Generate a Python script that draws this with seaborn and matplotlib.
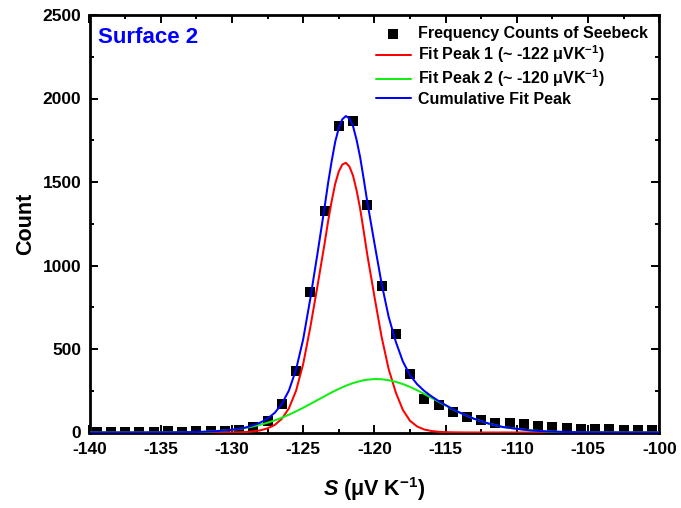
import matplotlib
matplotlib.use("Agg")
import matplotlib.pyplot as plt
from matplotlib.ticker import MultipleLocator
import pandas as pd
import seaborn as sns

# ---- data ----
seebeck_x = [-139.5, -138.5, -137.5, -136.5, -135.5, -134.5, -133.5, -132.5, -131.5, -130.5,
             -129.5, -128.5, -127.5, -126.5, -125.5, -124.5, -123.5, -122.5, -121.5, -120.5,
             -119.5, -118.5, -117.5, -116.5, -115.5, -114.5, -113.5, -112.5, -111.5, -110.5,
             -109.5, -108.5, -107.5, -106.5, -105.5, -104.5, -103.5, -102.5, -101.5, -100.5]
seebeck_count = [5, 5, 5, 5, 5, 6, 5, 7, 8, 10,
                 15, 33, 70, 172, 366, 842, 1328, 1834, 1866, 1361,
                 876, 589, 350, 198, 163, 120, 92, 74, 58, 58,
                 48, 38, 30, 26, 20, 20, 19, 14, 13, 12]

fit_x = [-140, -138, -136, -134, -133, -132, -131,
         -130, -129.5, -129, -128.5, -128, -127.5, -127, -126.5, -126, -125.5, -125, -124.5, -124, -123.5,
         -123.25, -123, -122.75, -122.5, -122.25, -122, -121.75, -121.5, -121.25, -121, -120.75, -120.5,
         -120, -119.5, -119, -118.5, -118, -117.5, -117, -116.5, -116, -115.5, -115, -114.5, -114,
         -113, -112, -111, -110, -109, -108, -107, -106, -105, -104, -102, -100]
fit_peak1 = [0, 0, 0, 0, 0, 0, 0.1,
             0.5, 1.5, 3, 7, 13, 25, 45, 82, 145, 250, 410, 630, 875, 1130,
             1265, 1385, 1490, 1563, 1605, 1615, 1592, 1538, 1450, 1340, 1205, 1065,
             815, 575, 380, 240, 135, 70, 36, 18, 9, 4, 2, 1, 0.5,
             0, 0, 0, 0, 0, 0, 0, 0, 0, 0, 0, 0]
fit_peak2 = [0, 0, 0.2, 1, 2, 4.4, 8.7,
             16, 21, 28, 36.5, 46.5, 58.5, 72.5, 88.6, 106.7, 126.7, 148, 171, 194, 217,
             229, 240, 251, 261, 271, 280, 288, 296, 302, 308, 313, 316,
             320, 319, 313, 303.5, 290, 273, 253, 231, 208, 185, 162, 139, 118.5,
             82, 54, 33, 22, 12, 7, 4, 2, 1, 0.5, 0, 0]
fit_cumulative = [0, 0, 0.2, 1, 2, 4.4, 8.8,
                  16.5, 22.5, 31, 43.5, 59.5, 83.5, 117.5, 170.6, 251.7, 376.7, 558, 801, 1069, 1347,
                  1494, 1625, 1741, 1824, 1876, 1895, 1880, 1834, 1752, 1648, 1518, 1381,
                  1135, 894, 693, 543.5, 425, 343, 289, 249, 217, 189, 164, 140, 119,
                  82, 54, 33, 22, 12, 7, 4, 2, 1, 0.5, 0, 0]

legend_labels = ["Frequency Counts of Seebeck",
                 r"Fit Peak 1 (~ -122 μVK$^{-1}$)",
                 r"Fit Peak 2 (~ -120 μVK$^{-1}$)",
                 "Cumulative Fit Peak"]
panel_label = "Surface 2"
x_ticks = [-140, -135, -130, -125, -120, -115, -110, -105, -100]
y_ticks = [0, 500, 1000, 1500, 2000, 2500]

# ---- style ----
sns.set_style("ticks")
plt.rcParams["font.family"] = ["Liberation Sans", "DejaVu Sans"]
plt.rcParams["font.weight"] = "bold"
plt.rcParams["text.color"] = "black"
plt.rcParams["axes.labelcolor"] = "black"
plt.rcParams["xtick.color"] = "black"
plt.rcParams["ytick.color"] = "black"
plt.rcParams["axes.unicode_minus"] = False
plt.rcParams["mathtext.fontset"] = "custom"
plt.rcParams["mathtext.rm"] = "Liberation Sans:bold"
plt.rcParams["mathtext.bf"] = "Liberation Sans:bold"
plt.rcParams["mathtext.it"] = "Liberation Sans:italic:bold"
plt.rcParams["mathtext.default"] = "rm"

pts = pd.DataFrame({"S": seebeck_x, "Count": seebeck_count})
fits = pd.DataFrame({"S": fit_x, "p1": fit_peak1, "p2": fit_peak2, "cum": fit_cumulative})

fig = plt.figure(figsize=(6.81, 5.08), dpi=100)
ax = fig.add_axes([89.5 / 681, 75.5 / 508, 569.8 / 681, 417.5 / 508])

sns.scatterplot(data=pts, x="S", y="Count", marker="s", s=55, color="black",
                linewidth=0, ax=ax, label=legend_labels[0], zorder=2)
sns.lineplot(data=fits, x="S", y="p1", color="#ff0000", lw=1.45, ax=ax,
             label=legend_labels[1], zorder=3)
sns.lineplot(data=fits, x="S", y="p2", color="#11ee11", lw=1.45, ax=ax,
             label=legend_labels[2], zorder=3)
sns.lineplot(data=fits, x="S", y="cum", color="#0000ff", lw=1.45, ax=ax,
             label=legend_labels[3], zorder=4)

ax.set_xlim(-140, -100)
ax.set_ylim(0, 2500)
ax.set_xticks(x_ticks)
ax.set_yticks(y_ticks)
ax.xaxis.set_minor_locator(MultipleLocator(2.5))
ax.yaxis.set_minor_locator(MultipleLocator(250))
ax.tick_params(which="both", direction="in", top=True, right=True, width=1.4,
               labelsize=12.5, colors="black")
ax.tick_params(which="major", length=5.8)
ax.tick_params(which="minor", length=2.9)
ax.tick_params(axis="x", pad=7)
ax.tick_params(axis="y", pad=6)
for lab in ax.get_xticklabels() + ax.get_yticklabels():
    lab.set_fontweight("bold")
    lab.set_color("black")
for sp in ax.spines.values():
    sp.set_linewidth(2.0)
    sp.set_color("black")
    sp.set_visible(True)

ax.set_xlabel(r"$\mathit{S}$ (μV K$^{-1}$)", fontsize=15.5, fontweight="bold", color="black")
ax.set_ylabel("Count", fontsize=15.5, fontweight="bold", color="black")
ax.xaxis.set_label_coords(0.5, -0.103)
ax.yaxis.set_label_coords(-0.094, 0.5)

ax.text(0.0154, 0.945, panel_label, transform=ax.transAxes, color="#0000ff",
        fontsize=16, fontweight="bold", ha="left", va="center")

h, l = ax.get_legend_handles_labels()
order = [l.index(t) for t in legend_labels]
leg = ax.legend([h[i] for i in order], [l[i] for i in order], loc="upper right",
                bbox_to_anchor=(1.0, 1.0), frameon=False, fontsize=11.5,
                handlelength=2.2, handletextpad=0.45, labelspacing=0.15,
                borderaxespad=0.3, scatterpoints=1)
for t in leg.get_texts():
    t.set_fontweight("bold")
    t.set_color("black")

fig.savefig("out.png", dpi=100)
